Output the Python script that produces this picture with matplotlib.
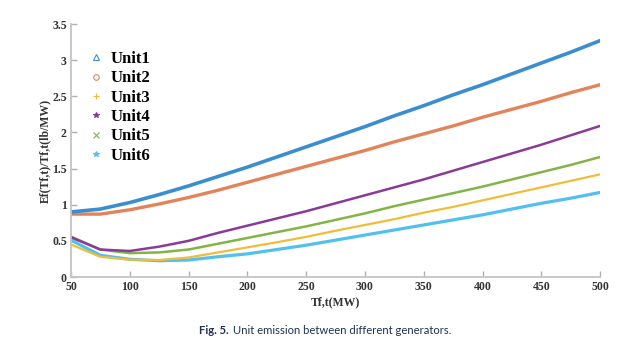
import numpy as np
import matplotlib as mpl
mpl.use('Agg')
import matplotlib.pyplot as plt
from matplotlib.lines import Line2D

# generator output (MW) and emission per unit output for each unit
tf = [50, 75, 100, 125, 150, 175, 200, 225, 250, 275, 300, 325, 350, 375, 400, 425, 450, 475, 500]
unit1 = [0.90, 0.94, 1.03, 1.14, 1.26, 1.39, 1.52, 1.66, 1.80, 1.94, 2.08, 2.23, 2.37, 2.52, 2.66, 2.81, 2.96, 3.11, 3.27]
unit2 = [0.87, 0.87, 0.93, 1.01, 1.10, 1.20, 1.31, 1.42, 1.53, 1.64, 1.75, 1.87, 1.98, 2.09, 2.21, 2.32, 2.43, 2.55, 2.66]
unit3 = [0.45, 0.28, 0.24, 0.235, 0.27, 0.34, 0.41, 0.48, 0.555, 0.64, 0.72, 0.80, 0.89, 0.97, 1.06, 1.15, 1.24, 1.33, 1.42]
unit4 = [0.55, 0.38, 0.36, 0.42, 0.50, 0.61, 0.71, 0.81, 0.91, 1.02, 1.13, 1.24, 1.35, 1.47, 1.59, 1.71, 1.83, 1.96, 2.09]
unit5 = [0.56, 0.38, 0.33, 0.34, 0.38, 0.46, 0.54, 0.62, 0.70, 0.79, 0.88, 0.98, 1.07, 1.16, 1.25, 1.35, 1.45, 1.55, 1.66]
unit6 = [0.51, 0.30, 0.245, 0.225, 0.235, 0.28, 0.32, 0.38, 0.44, 0.51, 0.58, 0.65, 0.72, 0.79, 0.86, 0.94, 1.02, 1.09, 1.17]

names = ['Unit1', 'Unit2', 'Unit3', 'Unit4', 'Unit5', 'Unit6']
series = [unit1, unit2, unit3, unit4, unit5, unit6]
colors = ['#3a8ecf', '#e2835a', '#f0bd3a', '#8a3a98', '#82b446', '#52c0ee']
markers = ['^', 'o', '+', '*', 'x', '*']
widths = [2.6, 2.4, 1.6, 1.8, 1.8, 2.3]

plt.rcParams['font.family'] = ['Liberation Serif', 'DejaVu Serif']

fig = plt.figure(figsize=(6.32, 3.49), dpi=100)
ax = fig.add_axes([0.1123, 0.2063, 0.8372, 0.7249])

# draw from the bottom up so the upper units sit on top
for y, c, w in zip(series[::-1], colors[::-1], widths[::-1]):
    ax.plot(tf, y, color=c, lw=w, solid_capstyle='round', solid_joinstyle='round')

ax.set_xlim(50, 500)
ax.set_ylim(0, 3.5)
ax.set_xticks(np.arange(50, 501, 50))
ax.set_yticks([0, 0.5, 1, 1.5, 2, 2.5, 3, 3.5])
ax.set_yticklabels(['0', '0.5', '1', '1.5', '2', '2.5', '3', '3.5'])

for s in ['top', 'right']:
    ax.spines[s].set_visible(False)
for s in ['left', 'bottom']:
    ax.spines[s].set_color('#c4c4c4')
    ax.spines[s].set_linewidth(1.3)
ax.tick_params(direction='in', length=4, width=1.0, color='#b0b0b0',
               labelsize=8.5, pad=3)
for lab in ax.get_xticklabels() + ax.get_yticklabels():
    lab.set_fontweight('bold')
    lab.set_color('#333333')

ax.set_xlabel('Tf,t(MW)', fontsize=8.5, fontweight='bold', color='#333333', labelpad=2)
ax.set_ylabel('Ef(Tf,t)/Tf,t(lb/MW)', fontsize=8.5, fontweight='bold', color='#333333', labelpad=1)

handles = [Line2D([], [], color=c, marker=m, linestyle='none', markersize=4,
                  markerfacecolor='none' if m in ('^', 'o') else c, markeredgewidth=0.8)
           for c, m in zip(colors, markers)]
leg = ax.legend(handles, names, loc='upper left', bbox_to_anchor=(0.0, 0.952),
                frameon=False, handletextpad=0.3, labelspacing=0.2,
                prop={'weight': 'bold', 'size': 12}, handlelength=1.2)

cap = dict(fontsize=8.1, color='#1f3050', va='center', family=['Lato', 'DejaVu Sans'])
fig.text(199 / 632, 1 - 331 / 349, 'Fig. 5.', fontweight='bold', **cap)
fig.text(233 / 632, 1 - 331 / 349, 'Unit emission between different generators.', **cap)

plt.savefig('out.png', dpi=100)
